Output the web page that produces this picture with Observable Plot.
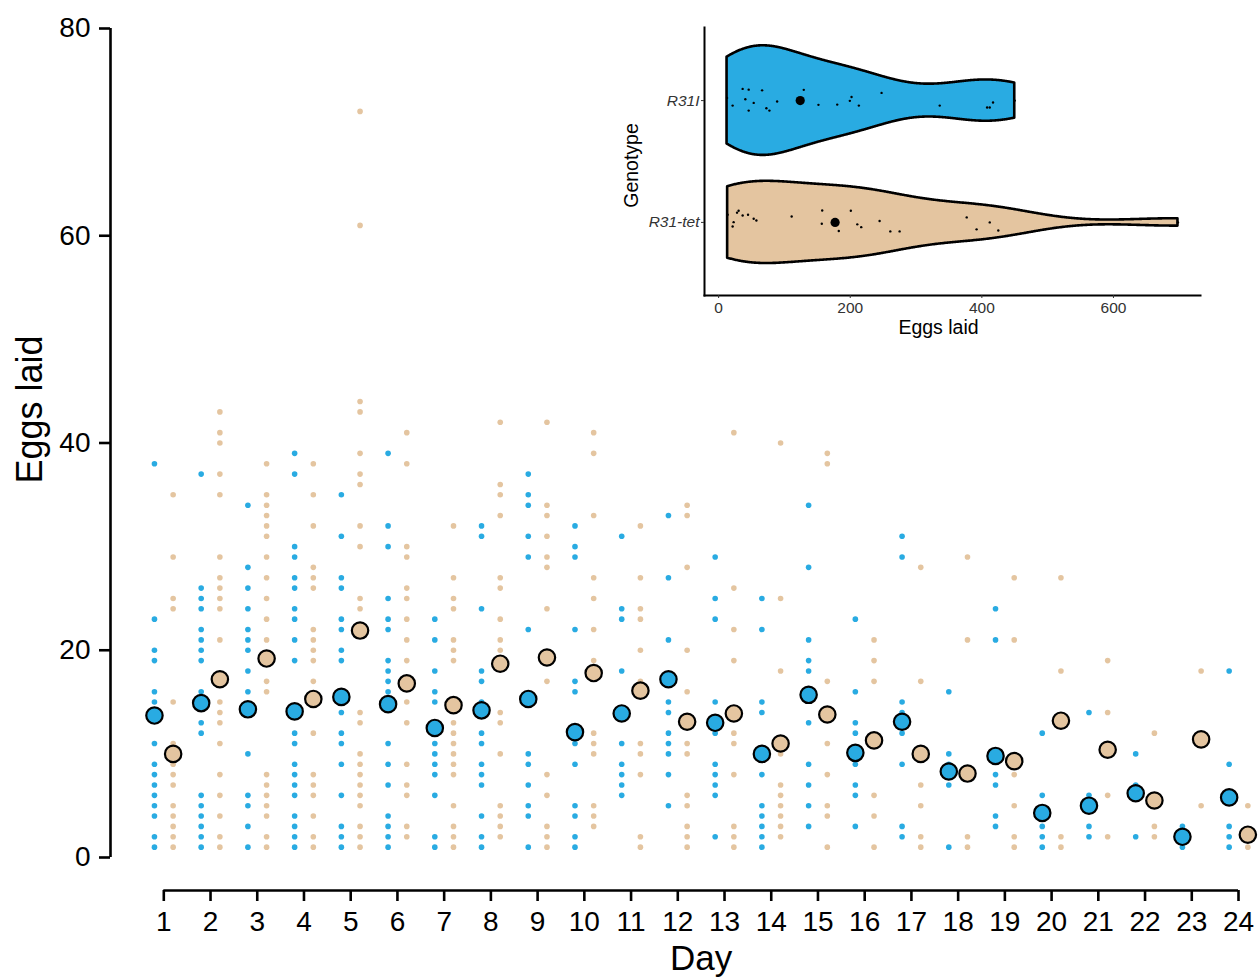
<!DOCTYPE html>
<html><head><meta charset="utf-8">
<script src="https://cdn.jsdelivr.net/npm/d3@7"></script>
<script src="https://cdn.jsdelivr.net/npm/@observablehq/plot@0.6"></script>
<style>
body{margin:0;background:#fff;}
#wrap{position:relative;width:1260px;height:979px;}
#wrap svg{position:absolute;top:0;}
</style></head><body><div id="wrap"></div>
<script>
// ---------- data ----------
const days = [1,2,3,4,5,6,7,8,9,10,11,12,13,14,15,16,17,18,19,20,21,22,23,24];
const genotypes = ["R31I", "R31-tet"];
const colors = ["#29ABE2", "#E4C5A0"];
const yTicks = [0, 20, 40, 60, 80];

const eggsR31I = [
  [38,23,20,19,16,15,11,9,8,7,6,5,4,2,1],
  [37,26,25,24,22,21,20,19,16,13,12,6,5,4,3,2,1],
  [34,28,26,24,22,21,20,18,16,10,6,5,3,1],
  [39,37,30,29,27,26,24,23,21,19,12,11,9,8,7,6,4,3,2,1],
  [35,31,27,26,23,22,20,19,14,12,11,9,6,3,2,1],
  [39,32,30,25,23,22,19,18,17,16,11,9,7,4,3,2,1],
  [23,21,18,16,15,11,10,9,8,6,2,1],
  [32,31,24,18,17,15,12,11,9,8,7,4,2,1],
  [37,35,34,31,29,22,10,9,7,5,4,1],
  [32,30,29,22,17,16,11,9,5,4,2,1],
  [31,24,23,18,11,9,8,7,6],
  [33,27,21,15,14,12,11,10,8,5],
  [29,25,23,15,12,9,8,7,6,2],
  [25,22,15,14,8,5,4,3,2,1],
  [34,28,21,19,18,13,9,7,5,3],
  [23,16,13,12,9,7,6,3],
  [31,29,15,14,12,9,3,2],
  [16,10,9,7,1],
  [24,21,8,7,4,3],
  [12,6,3,2,1],
  [14,6,3,2],
  [10,7,2],
  [3,1],
  [18,9,3,2,1]
];
const eggsR31tet = [
  [35,29,25,24,15,11,9,8,7,5,4,3,2,1],
  [43,41,40,37,35,29,27,26,25,24,21,15,14,13,11,8,6,4,2,1],
  [38,35,34,33,32,31,29,27,25,23,21,17,16,8,7,6,5,4,2,1],
  [38,35,32,28,27,26,22,21,20,19,17,12,8,7,6,4,2,1],
  [72,61,44,43,39,37,36,32,30,25,24,14,13,10,9,8,7,6,5,3,2,1],
  [41,38,30,29,26,25,23,21,19,15,13,9,7,6,3,2],
  [32,27,25,24,21,20,19,13,12,11,10,9,8,5,3,2,1],
  [42,36,35,33,27,26,23,21,20,14,13,10,5,4,3,2],
  [42,34,33,31,29,28,24,17,8,6,3,2,1],
  [41,39,33,27,25,22,19,12,11,10,5,4,3],
  [32,27,24,23,20,17,11,10,8,2,1],
  [34,33,28,20,16,11,10,6,5,3,2,1],
  [41,26,22,19,12,11,8,3,2,1],
  [40,25,18,10,7,6,5,4,3,2],
  [39,38,17,11,8,5,4,1],
  [21,19,17,6,4,1],
  [28,17,7,5,2,1],
  [29,21,2,1],
  [27,21,8,5,2,1],
  [27,18,2,1],
  [19,14,6,2],
  [12,3,2],
  [18,5],
  [5,1]
];
const meanR31I = [13.7,14.9,14.3,14.1,15.5,14.8,12.5,14.2,15.3,12.1,13.9,17.2,13.0,10.0,15.7,10.1,13.1,8.3,9.8,4.3,5.0,6.2,2.0,5.8];
const meanR31tet = [10.0,17.2,19.2,15.3,21.9,16.8,14.7,18.7,19.3,17.8,16.1,13.1,13.9,11.0,13.8,11.3,10.0,8.1,9.3,13.2,10.4,5.5,11.4,2.2];

// inset: total eggs per fly, with vertical jitter (in genotype-band units)
const totalR31I = [12.8,21.3,36.5,40.6,45.7,45.7,53.3,66.1,72.6,77.2,88.9,129.4,151.7,180.2,199.4,202,213.1,247.6,336,408,412,417,450];
const jitterR31I = [-0.022,0.041,-0.096,-0.011,-0.090,0.082,0.019,-0.084,0.063,0.082,0.008,-0.088,0.035,0.033,0.002,-0.030,0.041,-0.063,0.041,0.057,0.057,0.016,0];
const totalR31tet = [13.7,21.3,22.8,28,30.4,36.5,44.7,53.3,57.4,111,156.8,157.4,182.6,200.9,210.7,216.7,244.6,260.9,275,377,392,412,425,698];
const jitterR31tet = [-0.063,0.033,-0.002,-0.080,-0.096,-0.057,-0.063,-0.030,-0.016,-0.049,0.011,-0.098,0.071,-0.096,0.016,0.039,-0.011,0.074,0.074,-0.041,0.057,0,0.066,0];
const centreTotal = [124, 177];
const insetTicks = [0, 200, 400, 600];

// ---------- layout ----------
const FONT = "'Liberation Sans', Arial, Helvetica, sans-serif";
const INSET_L = 53.3, INSET_B = 33;
const dodge = {"R31I": -0.2, "R31-tet": 0.2};

const rows = [], meanRows = [];
[eggsR31I, eggsR31tet].forEach((series, gi) => {
  series.forEach((vals, di) => vals.forEach(v => rows.push({day: days[di], genotype: genotypes[gi], eggs: v})));
});
[meanR31I, meanR31tet].forEach((series, gi) => {
  series.forEach((m, di) => meanRows.push({day: days[di], genotype: genotypes[gi], mean: m}));
});
const dx = d => d.day + dodge[d.genotype];

const main = Plot.plot({
  width: 1260, height: 979,
  marginLeft: 110, marginRight: 22, marginTop: 28, marginBottom: 89,
  style: {fontFamily: FONT, color: "black", background: "transparent", overflow: "visible"},
  x: {type: "linear", domain: [1, 24], insetLeft: INSET_L},
  y: {domain: [0, 80], insetBottom: INSET_B},
  color: {domain: genotypes, range: colors},
  marks: [
    Plot.ruleX([1], {y1: 0, y2: 80, dx: -INSET_L, strokeWidth: 2.6}),
    Plot.ruleY([0], {x1: 1, x2: 24, dy: INSET_B, strokeWidth: 2.6}),
    Plot.axisY({ticks: yTicks, tickSize: 11, tickPadding: 9, fontSize: 28, strokeWidth: 2.6, label: null}),
    Plot.axisX({ticks: days, tickSize: 11, tickPadding: 10, fontSize: 28, strokeWidth: 2.6, label: null, tickFormat: d => String(d)}),
    Plot.dot(rows, {x: dx, y: "eggs", r: 2.8, fill: "genotype"}),
    Plot.dot(meanRows, {x: dx, y: "mean", r: 8.2, fill: "genotype", stroke: "black", strokeWidth: 2.2}),
    Plot.text(["Eggs laid"], {frameAnchor: "left", textAnchor: "middle", lineAnchor: "middle", rotate: -90, dx: -80, dy: -50, fontSize: 36}),
    Plot.text(["Day"], {x: d3.mean(days), frameAnchor: "bottom", textAnchor: "middle", lineAnchor: "middle", dy: 68, fontSize: 35})
  ]
});

// ---------- inset violin ----------
function kde(values) {
  const s = values.slice().sort(d3.ascending);
  const sd = d3.deviation(s);
  const iqr = d3.quantile(s, 0.75) - d3.quantile(s, 0.25);
  const bw = 0.9 * Math.min(sd, iqr / 1.34) * Math.pow(s.length, -0.2);
  const lo = s[0], hi = s[s.length - 1], n = 512;
  return d3.range(n).map(i => {
    const v = lo + (hi - lo) * i / (n - 1);
    const d = d3.mean(s, x => Math.exp(-0.5 * ((v - x) / bw) ** 2)) / (bw * Math.sqrt(2 * Math.PI));
    return {v, d};
  });
}
const totals = [totalR31I, totalR31tet];
const jitters = [jitterR31I, jitterR31tet];
const dens = totals.map(kde);
const maxD = d3.max(dens.flat(), d => d.d);
const violins = dens.map((arr, gi) => arr.map(p => ({v: p.v, lo: gi + 1 - 0.45 * p.d / maxD, hi: gi + 1 + 0.45 * p.d / maxD})));
const dotRows = totals.flatMap((arr, gi) => arr.map((t, i) => ({t, y: gi + 1 + jitters[gi][i]})));
const centreRows = centreTotal.map((t, gi) => ({t, y: gi + 1}));
const allTotals = totals.flat();
const [tMin, tMax] = d3.extent(allTotals);
const pad = 0.05 * (tMax - tMin);

const inset = Plot.plot({
  width: 620, height: 345,
  marginLeft: 104, marginRight: 20, marginTop: 27, marginBottom: 50,
  style: {fontFamily: FONT, color: "black", background: "transparent", overflow: "visible"},
  x: {domain: [tMin - pad, tMax + pad]},
  y: {domain: [2.6, 0.4]},
  marks: [
    ...violins.map((vd, gi) => Plot.areaY(vd, {x: "v", y1: "lo", y2: "hi", fill: colors[gi], stroke: "black", strokeWidth: 2.6, strokeLinejoin: "round"})),
    Plot.dot(dotRows, {x: "t", y: "y", r: 1.2, fill: "black"}),
    Plot.dot(centreRows, {x: "t", y: "y", r: 4.6, fill: "black"}),
    Plot.frame({anchor: "left", strokeWidth: 2}),
    Plot.frame({anchor: "bottom", strokeWidth: 2}),
    Plot.axisX({ticks: insetTicks, tickSize: 3, tickPadding: 3, fontSize: 15.5, label: null, fill: "#333", stroke: "#333"}),
    Plot.axisY({ticks: [1, 2], tickFormat: i => genotypes[i - 1], tickSize: 3, tickPadding: 2, fontSize: 15.5, fontStyle: "italic", label: null, fill: "#333", stroke: "#333"}),
    Plot.text(["Eggs laid"], {frameAnchor: "bottom", textAnchor: "middle", lineAnchor: "middle", dx: -14, dy: 32, fontSize: 19.5}),
    Plot.text(["Genotype"], {frameAnchor: "left", textAnchor: "middle", lineAnchor: "middle", rotate: -90, dx: -73, dy: 4, fontSize: 19.5})
  ]
});
inset.style.left = "600px";

const wrap = document.getElementById("wrap");
main.style.left = "0px";
wrap.appendChild(main);
wrap.appendChild(inset);
</script></body></html>
